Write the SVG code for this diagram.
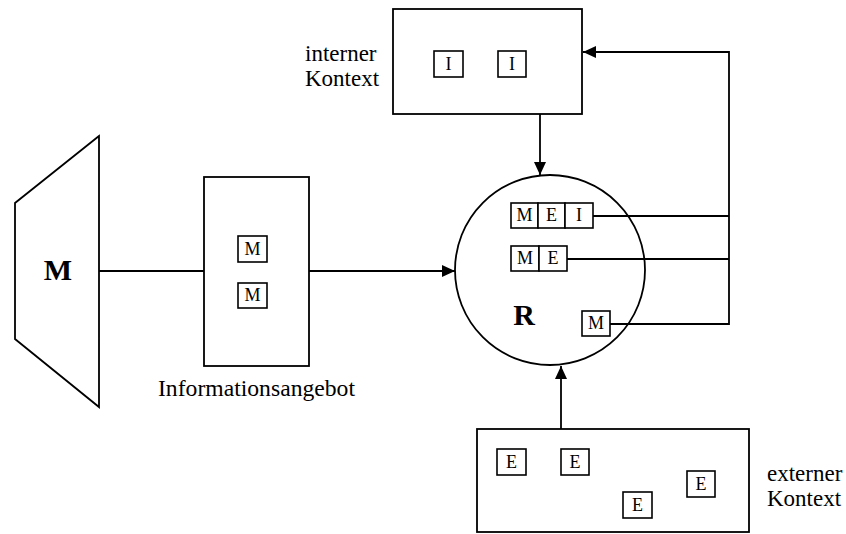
<svg xmlns="http://www.w3.org/2000/svg" width="846" height="534" viewBox="0 0 846 534">
<defs>
<marker id="ah" markerUnits="userSpaceOnUse" markerWidth="14" markerHeight="12" refX="13" refY="6" orient="auto"><path d="M0,0 L13,6 L0,12 Z" fill="#000"/></marker>
</defs>
<style>
.s{fill:#fff;stroke:#000;stroke-width:1.8}
.c{fill:none;stroke:#000;stroke-width:1.8}
.b{fill:#fff;stroke:#000;stroke-width:1.6}
.l{fill:none;stroke:#000;stroke-width:1.8}
.t{font-family:"Liberation Serif","Times New Roman",serif;font-size:23px;fill:#000}
.k{font-family:"Liberation Serif","Times New Roman",serif;font-size:18px;fill:#000;text-anchor:middle}
.big{font-family:"Liberation Serif","Times New Roman",serif;font-size:30px;font-weight:bold;fill:#000;text-anchor:middle}
</style>
<rect width="846" height="534" fill="#fff"/>
<g id="connectors">
<line class="l" x1="99" y1="271" x2="204" y2="271"/>
<line class="l" x1="309" y1="271" x2="455" y2="271" marker-end="url(#ah)"/>
<line class="l" x1="540" y1="114" x2="540" y2="175" marker-end="url(#ah)"/>
<line class="l" x1="561" y1="429" x2="561" y2="366" marker-end="url(#ah)"/>
<polyline class="l" points="593,216 729,216"/>
<polyline class="l" points="567,259 729,259"/>
<polyline class="l" points="610,324 729,324 729,52 583,52" marker-end="url(#ah)"/>
</g>
<g id="M">
<polygon class="s" points="99,136 15,203 15,339 99,407"/>
<text class="big" x="58" y="280">M</text>
</g>
<g id="informationsangebot">
<rect class="s" x="204" y="177" width="105" height="189"/>
<rect class="b" x="238" y="236" width="29" height="26"/>
<text class="k" x="252.5" y="255">M</text>
<rect class="b" x="238" y="283" width="29" height="25"/>
<text class="k" x="252.5" y="301">M</text>
<text class="t" x="158" y="396" textLength="197" lengthAdjust="spacingAndGlyphs">Informationsangebot</text>
</g>
<g id="interner-kontext">
<rect class="s" x="393" y="9" width="189" height="105"/>
<rect class="b" x="434" y="51" width="29" height="26"/>
<text class="k" x="448.5" y="70">I</text>
<rect class="b" x="498" y="51" width="28" height="26"/>
<text class="k" x="512" y="70">I</text>
<text class="t" x="305" y="61">interner</text>
<text class="t" x="305" y="86">Kontext</text>
</g>
<g id="R">
<circle class="c" cx="550" cy="270" r="95"/>
<text class="big" x="524" y="325">R</text>
<rect class="b" x="511" y="203" width="27" height="25"/>
<rect class="b" x="538" y="203" width="27" height="25"/>
<rect class="b" x="565" y="203" width="28" height="25"/>
<text class="k" x="524.5" y="221">M</text>
<text class="k" x="551.5" y="221">E</text>
<text class="k" x="579" y="221">I</text>
<rect class="b" x="511" y="246" width="28" height="25"/>
<rect class="b" x="539" y="246" width="28" height="25"/>
<text class="k" x="525" y="264">M</text>
<text class="k" x="553" y="264">E</text>
<rect class="b" x="582" y="311" width="28" height="25"/>
<text class="k" x="596" y="329">M</text>
</g>
<g id="externer-kontext">
<rect class="s" x="477" y="429" width="272" height="103"/>
<rect class="b" x="497" y="449" width="29" height="26"/>
<text class="k" x="511.5" y="468">E</text>
<rect class="b" x="561" y="449" width="28" height="26"/>
<text class="k" x="575" y="468">E</text>
<rect class="b" x="623" y="492" width="29" height="26"/>
<text class="k" x="637.5" y="511">E</text>
<rect class="b" x="687" y="471" width="28" height="26"/>
<text class="k" x="701" y="490">E</text>
<text class="t" x="767" y="481">externer</text>
<text class="t" x="767" y="506">Kontext</text>
</g>
</svg>
